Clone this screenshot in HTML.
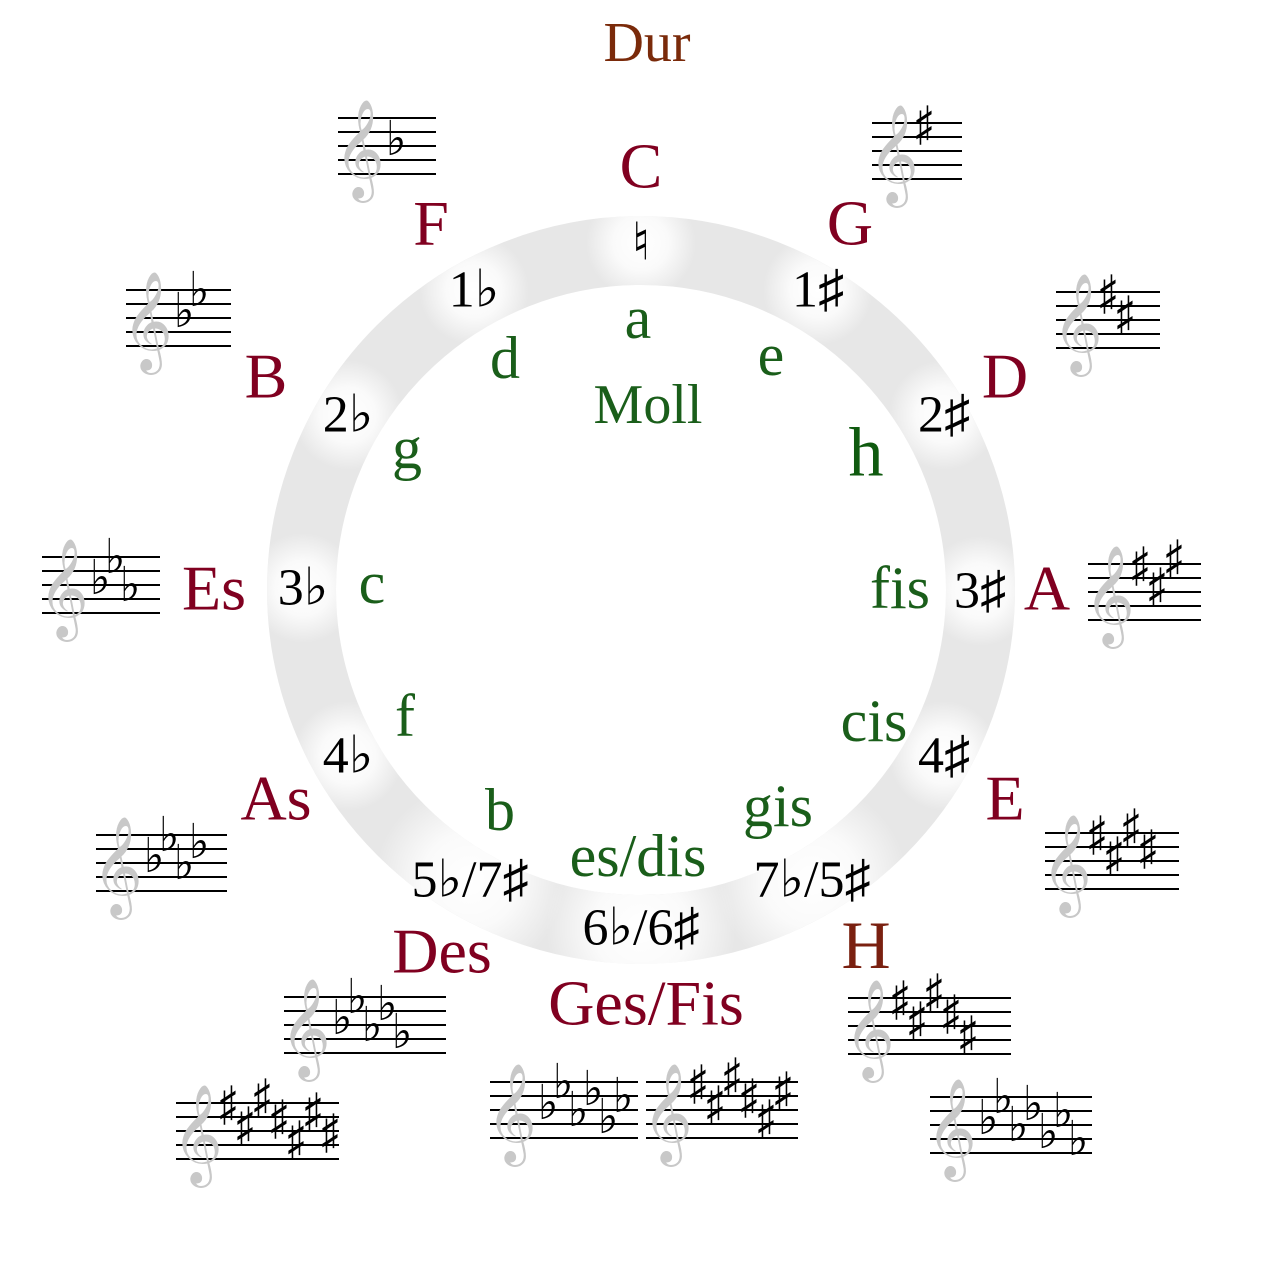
<!DOCTYPE html>
<html><head><meta charset="utf-8"><style>
html,body{margin:0;padding:0;background:#fff}
svg{display:block}
text{font-family:"Liberation Serif","DejaVu Serif",serif}
</style></head><body>
<svg id="c" width="1280" height="1280" viewBox="0 0 1280 1280" xmlns="http://www.w3.org/2000/svg">
<defs>
<radialGradient id="spot"><stop offset="0" stop-color="#fff" stop-opacity="1"/><stop offset="0.5" stop-color="#fff" stop-opacity="0.8"/><stop offset="1" stop-color="#fff" stop-opacity="0"/></radialGradient>
<clipPath id="ringclip"><path d="M641,216a374,374 0 1,0 0.01,0zM641,285a305,305 0 1,1 -0.01,0z" clip-rule="evenodd"/></clipPath>
</defs>
<g id="ring">
<circle cx="641" cy="590" r="339.5" fill="none" stroke="#e7e7e7" stroke-width="69"/>
</g>
<g id="spots" clip-path="url(#ringclip)"></g>
<text x="647" y="43" font-size="56" fill="#7a2a0a" text-anchor="middle" dominant-baseline="central">Dur</text>
<text x="648" y="405" font-size="56" fill="#1a5e1a" text-anchor="middle" dominant-baseline="central">Moll</text>
<g id="labels"></g>
<g id="staves"></g>
</svg>
<script>
const NS="http://www.w3.org/2000/svg";
const majors=["C","G","D","A","E","H","Ges/Fis","Des","As","Es","B","F"];
const majorPos=[[641,166],[850,223],[1005,376],[1047,588],[1005,798],[866,945],[646,1003],[442,951],[276,798],[214,588],[266,376],[431,223]];
const minors=["a","e","h","fis","cis","gis","es/dis","b","f","c","g","d"];
const minorPos=[[638,318],[771,355],[866,453],[900,588],[874,721],[778,806],[638,856],[500,810],[405,716],[372,583],[407,448],[505,358]];
const counts=["\u266E","1\u266F","2\u266F","3\u266F","4\u266F","7\u266D/5\u266F","6\u266D/6\u266F","5\u266D/7\u266F","4\u266D","3\u266D","2\u266D","1\u266D"];
const countPos=[[641,243],[818,290],[944,415],[980,591],[944,756],[812,880],[641,928],[470,880],[348,756],[303,588],[348,415],[474,290]];
// staves: [left, topLineY, width, numAccidentals, type]
const staves=[[338,118,98,1,"b"],[872,123,90,1,"s"],[126,290,105,2,"b"],[1056,292,104,2,"s"],[42,557,118,3,"b"],[1088,564,113,3,"s"],[96,835,131,4,"b"],[1045,833,134,4,"s"],[284,997,162,5,"b"],[848,998,163,5,"s"],[176,1103,163,7,"s"],[490,1082,148,6,"b"],[646,1082,152,6,"s"],[930,1097,162,7,"b"]];
const sharpSteps=[0,3,-1,2,5,1,4];
const flatSteps=[4,1,5,2,6,3,7];
const svg=document.getElementById('c');
const spots=document.getElementById('spots');
const labels=document.getElementById('labels');
const stv=document.getElementById('staves');
function txt(parent,x,y,s,size,fill){
  const t=document.createElementNS(NS,'text');
  t.setAttribute('x',x);t.setAttribute('y',y);
  t.setAttribute('font-size',size);t.setAttribute('fill',fill);
  t.setAttribute('text-anchor','middle');t.setAttribute('dominant-baseline','central');
  t.textContent=s;parent.appendChild(t);return t;
}
counts.forEach((c,i)=>{
  const s=document.createElementNS(NS,'circle');
  s.setAttribute('cx',countPos[i][0]);s.setAttribute('cy',countPos[i][1]);
  s.setAttribute('r',c.length>3?95:55);s.setAttribute('fill','url(#spot)');
  
  
  spots.appendChild(s);
});
majors.forEach((m,i)=>{
  const t=txt(labels,majorPos[i][0],majorPos[i][1],m,i==5?68:64,i==5?"#7a2010":"#800020");
  
  
});
minors.forEach((m,i)=>{
  const t=txt(labels,minorPos[i][0],minorPos[i][1],m,i==2?70:60,i==2?"#0f5a0f":"#1a5e1a");
  
  
});
counts.forEach((c,i)=>{
  const t=txt(labels,countPos[i][0],countPos[i][1],c,52,"#000");
  
  
});
staves.forEach(st=>{
  const [x,y,w,n,type]=st;const sp=14;
  const g=document.createElementNS(NS,'g');
  
  
  for(let k=0;k<5;k++){
    const l=document.createElementNS(NS,'line');
    l.setAttribute('x1',x);l.setAttribute('x2',x+w);
    l.setAttribute('y1',y+k*sp);l.setAttribute('y2',y+k*sp);
    l.setAttribute('stroke','#000');l.setAttribute('stroke-width','2');
    g.appendChild(l);
  }
  const cl=document.createElementNS(NS,'text');
  cl.setAttribute('x',x-4);cl.setAttribute('y',y+4*sp+4);
  cl.setAttribute('font-size','86');cl.setAttribute('fill','#c8c8c8');
  cl.setAttribute('font-family','"DejaVu Sans",sans-serif');
  cl.textContent='\u{1D11E}';
  
  
  g.appendChild(cl);
  const steps=type=="s"?sharpSteps:flatSteps;
  for(let k=0;k<n;k++){
    const a=document.createElementNS(NS,'text');
    const ay=y+steps[k]*sp/2;
    const ax=type=="s"?x+52+k*17:x+58+k*15;
    const by=type=="s"?ay+17:ay+9;
    a.setAttribute('transform','translate('+ax+','+by+') scale('+(type=="s"?0.7:0.9)+',1)');
    a.setAttribute('font-size','48');a.setAttribute('fill','#000');
    a.setAttribute('text-anchor','middle');
    a.setAttribute('font-family','"DejaVu Sans",sans-serif');
    a.textContent=type=="s"?'\u266F':'\u266D';
    
    
    g.appendChild(a);
  }
  stv.appendChild(g);
});
</script>
</body></html>
